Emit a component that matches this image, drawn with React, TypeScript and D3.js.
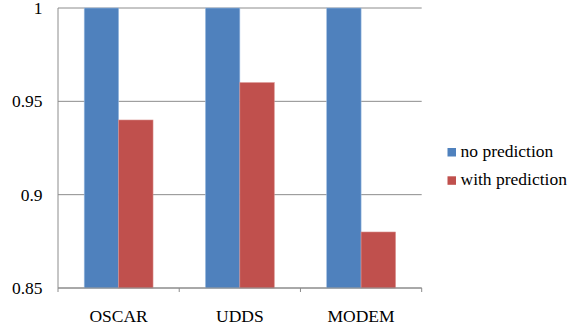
import React from "react";
import * as d3 from "d3";

const categories = ["OSCAR", "UDDS", "MODEM"];
const seriesNames = ["no prediction", "with prediction"];
const noPrediction = [1, 1, 1];
const withPrediction = [0.94, 0.96, 0.88];
const yTicks = [0.85, 0.9, 0.95, 1];
const yTickLabels = ["0.85", "0.9", "0.95", "1"];
const colors = ["#4F81BD", "#C0504D"];

export default function App() {
  const W = 572, H = 329;
  const left = 58, right = 421.7, top = 8, bottom = 288;
  const x = d3.scaleBand<string>().domain(categories).range([left, right]);
  const y = d3.scaleLinear().domain([0.85, 1]).range([bottom, top]);
  const series = [noPrediction, withPrediction];
  const barW = 34.4;
  const font = "'Liberation Serif', 'Times New Roman', serif";
  const fs = 17.5;

  return (
    <svg width={W} height={H} style={{ position: "absolute", left: 0, top: 0 }}>
      <rect x={0} y={0} width={W} height={H} fill="#fff" />
      {yTicks.map((t) => (
        <line key={t} x1={left} x2={right} y1={y(t)} y2={y(t)} stroke="#8c8c8c" strokeWidth={1} />
      ))}
      <line x1={left} x2={left} y1={top} y2={bottom} stroke="#8c8c8c" />
      {categories.map((c, i) =>
        series.map((s, j) => {
          const cx = (x(c) as number) + x.bandwidth() / 2;
          const bx = cx - barW + j * barW;
          return (
            <rect
              key={c + j}
              x={bx}
              y={y(s[i])}
              width={barW}
              height={bottom - y(s[i])}
              fill={colors[j]}
              stroke={j === 0 ? "#9bbbe0" : "#d88a88"}
              strokeWidth={0.6}
            />
          );
        })
      )}
      <line x1={left} x2={right} y1={bottom} y2={bottom} stroke="#8c8c8c" />
      {[...categories.map((c) => x(c) as number), right].map((v, i) => (
        <line key={i} x1={v} x2={v} y1={bottom} y2={bottom + 4} stroke="#8c8c8c" />
      ))}
      {yTicks.map((t, i) => (
        <text key={t} x={42.5} y={y(t)} dy="0.35em" textAnchor="end" fontFamily={font} fontSize={fs} fill="#000">
          {yTickLabels[i]}
        </text>
      ))}
      {categories.map((c) => (
        <text key={c} x={(x(c) as number) + x.bandwidth() / 2} y={321.5} textAnchor="middle" fontFamily={font} fontSize={fs} fill="#000">
          {c}
        </text>
      ))}
      {seriesNames.map((n, i) => (
        <g key={n} transform={`translate(447.5, ${156.7 + i * 28.3})`}>
          <rect x={0} y={-8.7} width={8.5} height={8.5} fill={colors[i]} />
          <text x={13} y={0} fontFamily={font} fontSize={fs} fill="#000">
            {n}
          </text>
        </g>
      ))}
    </svg>
  );
}
